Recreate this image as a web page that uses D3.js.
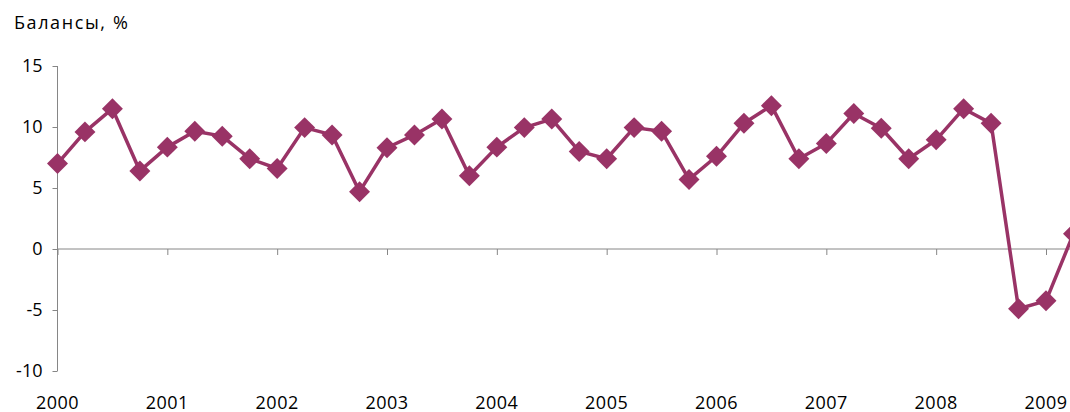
<!DOCTYPE html>
<html>
<head>
<meta charset="utf-8">
<script src="https://cdn.jsdelivr.net/npm/d3@7"></script>
<style>
  body { margin: 0; background: #fff; }
  svg { display: block; }
  text { font-family: "Open Sans", "Noto Sans", sans-serif; fill: #000; }
</style>
</head>
<body>
<svg id="chart" width="1070" height="412"></svg>
<script>
// quarterly balances, 2000Q1 .. 2009Q2
const years = ["2000", "2001", "2002", "2003", "2004", "2005", "2006", "2007", "2008", "2009"];
const balances = [
    7.0, 9.6, 11.5, 6.4,
    8.35, 9.65, 9.25, 7.4,
    6.6, 9.95, 9.35, 4.7,
    8.3, 9.35, 10.65, 6.0,
    8.35, 9.95, 10.65, 8.0,
    7.4, 9.95, 9.65, 5.7,
    7.6, 10.3, 11.75, 7.4,
    8.65, 11.1, 9.9, 7.4,
    8.95, 11.5, 10.3, -4.9,
    -4.25, 1.25
];
const yTicks = [-10, -5, 0, 5, 10, 15];

const svg = d3.select("#chart");
const color = "#993366";

const x = d3.scaleLinear()
    .domain([0, 36])
    .range([57.5, 1046]);

const y = d3.scaleLinear()
    .domain([-10, 15])
    .range([371, 66]);

// title
svg.append("text")
    .attr("x", 14)
    .attr("y", 29)
    .attr("font-size", 18)
    .attr("letter-spacing", 1.6)
    .text("Балансы, %");

// y axis
const yAxis = svg.append("g")
    .attr("transform", "translate(57.5,0)")
    .call(d3.axisLeft(y).tickValues(yTicks).tickSize(5).tickPadding(10).tickFormat(d => String(d)));
yAxis.select(".domain").attr("stroke", "#868686").attr("d", `M0,${y(-10)}H0V${y(15)}H0`);
yAxis.selectAll(".tick line").attr("stroke", "#868686");
yAxis.selectAll(".tick text")
    .attr("font-size", 18)
    .attr("font-family", "\"Open Sans\", sans-serif")
    .attr("fill", "#000");

// x axis along zero line
const yearIdx = years.map((d, i) => i * 4);
const xAxis = svg.append("g")
    .attr("transform", `translate(0,${y(0)})`)
    .call(d3.axisBottom(x).tickValues(yearIdx).tickSize(6).tickFormat(""));
xAxis.select(".domain").attr("stroke", "#868686").attr("d", `M${x(0)},0H1070`);
xAxis.selectAll(".tick line").attr("stroke", "#868686");

// year labels at bottom
svg.append("g")
    .selectAll("text")
    .data(years)
    .join("text")
    .attr("x", (d, i) => x(i * 4))
    .attr("y", 409)
    .attr("text-anchor", "middle")
    .attr("font-size", 18)
    .attr("letter-spacing", 0.5)
    .text(d => d);

// line
const line = d3.line()
    .x((d, i) => x(i))
    .y(d => y(d));

svg.append("path")
    .datum(balances)
    .attr("fill", "none")
    .attr("stroke", color)
    .attr("stroke-width", 3.5)
    .attr("stroke-linejoin", "round")
    .attr("d", line);

// diamond markers
const diamond = d3.symbol().type(d3.symbolDiamond2).size(280);
svg.append("g")
    .selectAll("path")
    .data(balances)
    .join("path")
    .attr("transform", (d, i) => `translate(${x(i)},${y(d)})`)
    .attr("d", diamond)
    .attr("fill", color);
</script>
</body>
</html>
